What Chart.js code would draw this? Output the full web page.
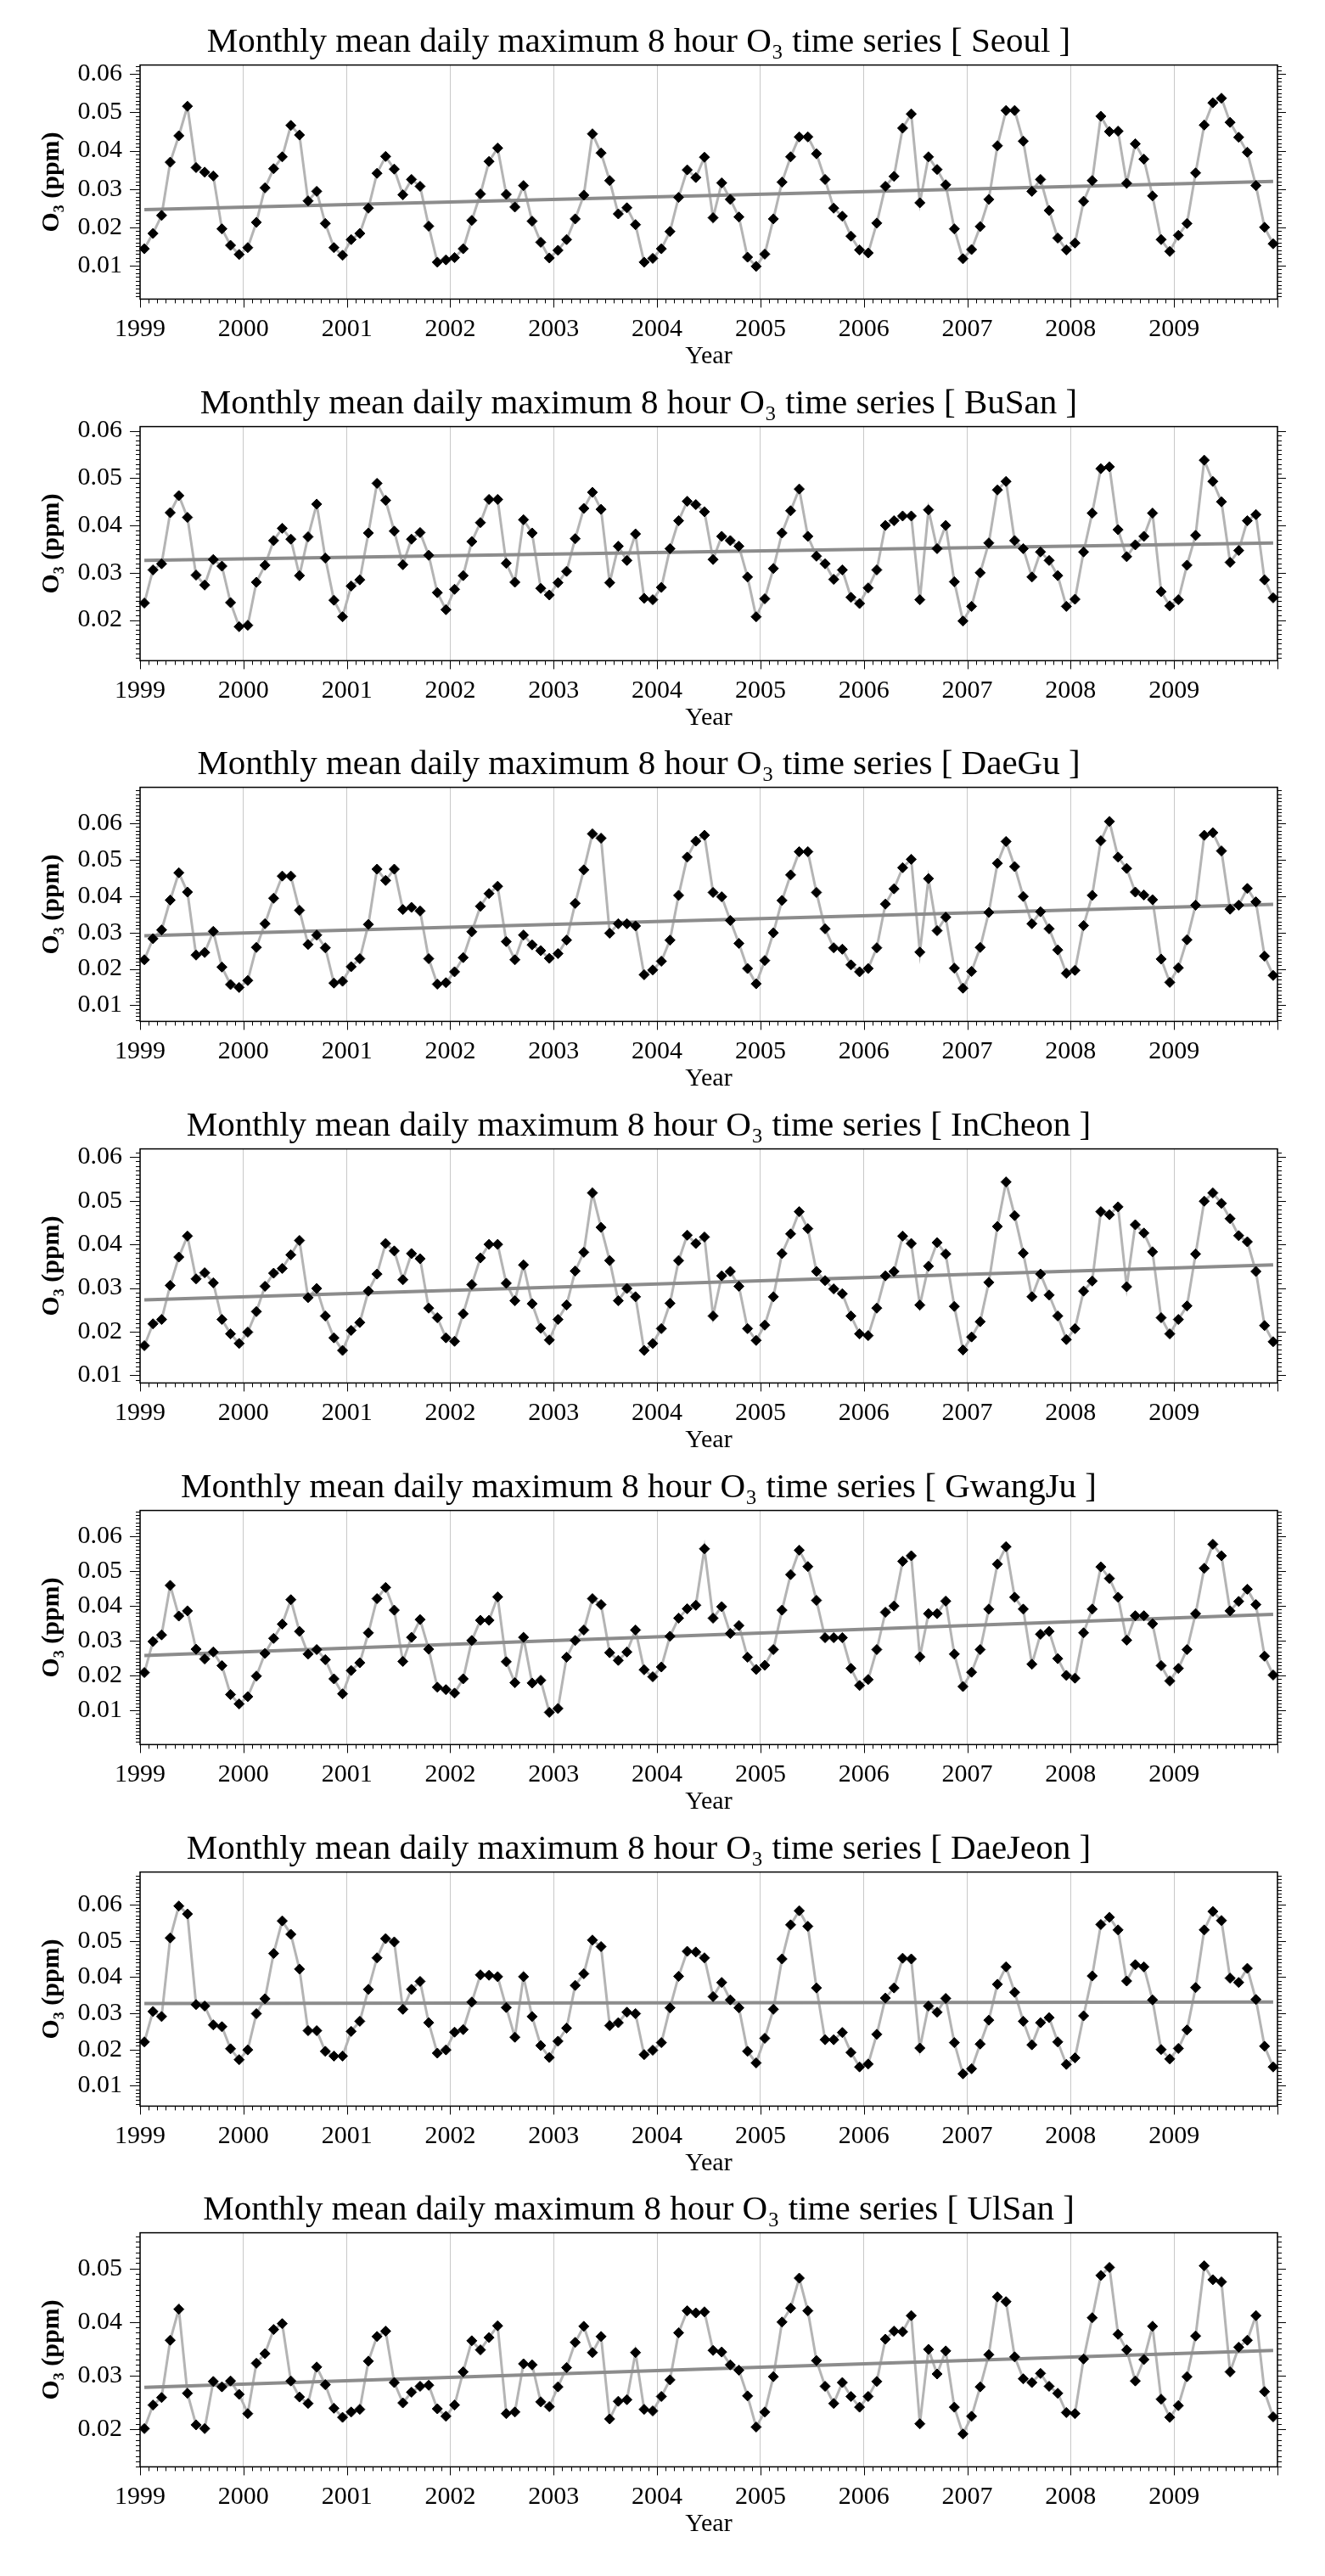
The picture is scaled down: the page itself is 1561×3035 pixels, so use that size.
<!DOCTYPE html>
<html>
<head>
<meta charset="utf-8">
<title>Monthly mean daily maximum 8 hour O3 time series</title>
<script src="https://cdn.jsdelivr.net/npm/chart.js@4.4.1/dist/chart.umd.min.js"></script>
<style>
    body { margin: 0; background: #fff; }
    #page { position: relative; width: 1561px; height: 3035px; background: #fff; }
    #page canvas { position: absolute; left: 0; }
</style>
</head>
<body>
<div id="page"></div>
<script>
const years = [1999, 2000, 2001, 2002, 2003, 2004, 2005, 2006, 2007, 2008, 2009];
const stations = ['Seoul', 'BuSan', 'DaeGu', 'InCheon', 'GwangJu', 'DaeJeon', 'UlSan'];

// monthly values (ppm), Jan 1999 .. Dec 2009, one row per year
const seoul = [
    0.0144, 0.0184, 0.0231, 0.0370, 0.0439, 0.0516, 0.0356, 0.0344, 0.0334, 0.0196, 0.0153, 0.0129,
    0.0147, 0.0213, 0.0303, 0.0353, 0.0384, 0.0466, 0.0441, 0.0269, 0.0294, 0.0210, 0.0147, 0.0127,
    0.0168, 0.0184, 0.0250, 0.0341, 0.0385, 0.0352, 0.0285, 0.0325, 0.0307, 0.0203, 0.0109, 0.0115,
    0.0121, 0.0144, 0.0218, 0.0287, 0.0372, 0.0407, 0.0286, 0.0253, 0.0309, 0.0216, 0.0161, 0.0120,
    0.0140, 0.0168, 0.0222, 0.0284, 0.0444, 0.0394, 0.0322, 0.0235, 0.0251, 0.0207, 0.0109, 0.0119,
    0.0144, 0.0189, 0.0278, 0.0350, 0.0330, 0.0383, 0.0225, 0.0316, 0.0273, 0.0227, 0.0122, 0.0098,
    0.0130, 0.0222, 0.0318, 0.0384, 0.0436, 0.0436, 0.0392, 0.0325, 0.0250, 0.0229, 0.0177, 0.0141,
    0.0133, 0.0211, 0.0307, 0.0333, 0.0459, 0.0496, 0.0264, 0.0384, 0.0351, 0.0311, 0.0196, 0.0118,
    0.0142, 0.0202, 0.0273, 0.0413, 0.0505, 0.0505, 0.0425, 0.0294, 0.0325, 0.0244, 0.0172, 0.0141,
    0.0159, 0.0268, 0.0322, 0.0490, 0.0450, 0.0451, 0.0315, 0.0418, 0.0378, 0.0282, 0.0168, 0.0137,
    0.0179, 0.0210, 0.0342, 0.0467, 0.0525, 0.0537, 0.0474, 0.0435, 0.0396, 0.0309, 0.0200, 0.0157
];
const busan = [
    0.0236, 0.0306, 0.0319, 0.0427, 0.0463, 0.0417, 0.0295, 0.0274, 0.0328, 0.0314, 0.0237, 0.0186,
    0.0189, 0.0280, 0.0316, 0.0368, 0.0394, 0.0371, 0.0294, 0.0376, 0.0445, 0.0331, 0.0242, 0.0207,
    0.0272, 0.0285, 0.0384, 0.0489, 0.0453, 0.0388, 0.0317, 0.0371, 0.0385, 0.0337, 0.0258, 0.0222,
    0.0265, 0.0294, 0.0366, 0.0406, 0.0455, 0.0455, 0.0320, 0.0280, 0.0412, 0.0384, 0.0267, 0.0253,
    0.0279, 0.0303, 0.0372, 0.0436, 0.0470, 0.0434, 0.0279, 0.0356, 0.0326, 0.0382, 0.0246, 0.0243,
    0.0269, 0.0351, 0.0410, 0.0451, 0.0444, 0.0429, 0.0328, 0.0377, 0.0368, 0.0356, 0.0291, 0.0207,
    0.0245, 0.0309, 0.0384, 0.0431, 0.0477, 0.0377, 0.0335, 0.0319, 0.0286, 0.0306, 0.0248, 0.0235,
    0.0268, 0.0306, 0.0400, 0.0410, 0.0420, 0.0420, 0.0243, 0.0433, 0.0351, 0.0400, 0.0281, 0.0198,
    0.0229, 0.0300, 0.0363, 0.0475, 0.0493, 0.0368, 0.0351, 0.0291, 0.0344, 0.0326, 0.0294, 0.0229,
    0.0244, 0.0344, 0.0426, 0.0520, 0.0524, 0.0391, 0.0334, 0.0359, 0.0377, 0.0426, 0.0260, 0.0230,
    0.0243, 0.0316, 0.0379, 0.0538, 0.0493, 0.0450, 0.0322, 0.0347, 0.0410, 0.0423, 0.0285, 0.0247
];
const daegu = [
    0.0225, 0.0283, 0.0307, 0.0389, 0.0464, 0.0411, 0.0238, 0.0245, 0.0303, 0.0205, 0.0157, 0.0149,
    0.0168, 0.0259, 0.0324, 0.0394, 0.0455, 0.0455, 0.0361, 0.0267, 0.0293, 0.0258, 0.0161, 0.0166,
    0.0206, 0.0228, 0.0322, 0.0474, 0.0443, 0.0474, 0.0363, 0.0369, 0.0359, 0.0228, 0.0158, 0.0162,
    0.0192, 0.0231, 0.0302, 0.0372, 0.0407, 0.0427, 0.0275, 0.0225, 0.0293, 0.0266, 0.0250, 0.0229,
    0.0242, 0.0279, 0.0380, 0.0472, 0.0571, 0.0559, 0.0298, 0.0324, 0.0324, 0.0318, 0.0184, 0.0197,
    0.0221, 0.0279, 0.0402, 0.0507, 0.0551, 0.0567, 0.0410, 0.0398, 0.0333, 0.0270, 0.0201, 0.0159,
    0.0223, 0.0299, 0.0388, 0.0458, 0.0522, 0.0522, 0.0410, 0.0310, 0.0258, 0.0254, 0.0211, 0.0192,
    0.0201, 0.0258, 0.0378, 0.0420, 0.0478, 0.0501, 0.0246, 0.0448, 0.0305, 0.0342, 0.0202, 0.0147,
    0.0193, 0.0259, 0.0355, 0.0490, 0.0550, 0.0481, 0.0399, 0.0324, 0.0357, 0.0310, 0.0252, 0.0188,
    0.0196, 0.0319, 0.0402, 0.0552, 0.0605, 0.0507, 0.0476, 0.0411, 0.0403, 0.0390, 0.0227, 0.0163,
    0.0203, 0.0280, 0.0375, 0.0567, 0.0574, 0.0524, 0.0364, 0.0375, 0.0421, 0.0384, 0.0235, 0.0182
];
const incheon = [
    0.0168, 0.0218, 0.0228, 0.0306, 0.0371, 0.0419, 0.0321, 0.0335, 0.0312, 0.0228, 0.0195, 0.0173,
    0.0199, 0.0246, 0.0304, 0.0334, 0.0345, 0.0376, 0.0409, 0.0278, 0.0299, 0.0236, 0.0186, 0.0157,
    0.0203, 0.0221, 0.0293, 0.0332, 0.0402, 0.0385, 0.0319, 0.0379, 0.0367, 0.0254, 0.0232, 0.0186,
    0.0178, 0.0241, 0.0308, 0.0369, 0.0400, 0.0400, 0.0311, 0.0271, 0.0353, 0.0264, 0.0208, 0.0181,
    0.0228, 0.0261, 0.0339, 0.0382, 0.0518, 0.0439, 0.0363, 0.0271, 0.0299, 0.0280, 0.0157, 0.0173,
    0.0207, 0.0265, 0.0363, 0.0421, 0.0402, 0.0417, 0.0236, 0.0328, 0.0338, 0.0304, 0.0207, 0.0180,
    0.0215, 0.0280, 0.0379, 0.0424, 0.0475, 0.0436, 0.0338, 0.0317, 0.0298, 0.0287, 0.0236, 0.0195,
    0.0191, 0.0254, 0.0328, 0.0338, 0.0419, 0.0402, 0.0261, 0.0350, 0.0404, 0.0378, 0.0258, 0.0158,
    0.0188, 0.0223, 0.0313, 0.0441, 0.0543, 0.0466, 0.0380, 0.0280, 0.0332, 0.0284, 0.0236, 0.0182,
    0.0207, 0.0293, 0.0316, 0.0475, 0.0468, 0.0486, 0.0303, 0.0445, 0.0426, 0.0383, 0.0232, 0.0195,
    0.0228, 0.0259, 0.0378, 0.0499, 0.0518, 0.0494, 0.0459, 0.0420, 0.0406, 0.0338, 0.0214, 0.0177
];
const gwangju = [
    0.0209, 0.0298, 0.0317, 0.0459, 0.0371, 0.0386, 0.0276, 0.0248, 0.0268, 0.0229, 0.0146, 0.0119,
    0.0140, 0.0199, 0.0264, 0.0307, 0.0348, 0.0418, 0.0327, 0.0262, 0.0275, 0.0246, 0.0191, 0.0148,
    0.0215, 0.0237, 0.0323, 0.0421, 0.0453, 0.0388, 0.0241, 0.0310, 0.0361, 0.0276, 0.0167, 0.0160,
    0.0150, 0.0191, 0.0301, 0.0359, 0.0359, 0.0426, 0.0240, 0.0180, 0.0310, 0.0179, 0.0187, 0.0095,
    0.0106, 0.0253, 0.0301, 0.0331, 0.0421, 0.0404, 0.0266, 0.0244, 0.0268, 0.0331, 0.0217, 0.0197,
    0.0225, 0.0313, 0.0365, 0.0392, 0.0402, 0.0564, 0.0365, 0.0398, 0.0321, 0.0344, 0.0253, 0.0218,
    0.0230, 0.0275, 0.0388, 0.0490, 0.0560, 0.0513, 0.0416, 0.0309, 0.0309, 0.0309, 0.0221, 0.0172,
    0.0189, 0.0275, 0.0382, 0.0400, 0.0528, 0.0544, 0.0254, 0.0378, 0.0378, 0.0414, 0.0262, 0.0169,
    0.0210, 0.0275, 0.0391, 0.0520, 0.0570, 0.0425, 0.0391, 0.0233, 0.0319, 0.0327, 0.0249, 0.0201,
    0.0193, 0.0323, 0.0391, 0.0512, 0.0479, 0.0425, 0.0302, 0.0372, 0.0372, 0.0349, 0.0229, 0.0185,
    0.0221, 0.0275, 0.0378, 0.0508, 0.0577, 0.0544, 0.0386, 0.0413, 0.0448, 0.0404, 0.0256, 0.0202
];
const daejeon = [
    0.0221, 0.0305, 0.0291, 0.0508, 0.0596, 0.0574, 0.0324, 0.0320, 0.0268, 0.0263, 0.0202, 0.0172,
    0.0199, 0.0299, 0.0340, 0.0465, 0.0555, 0.0518, 0.0422, 0.0252, 0.0252, 0.0195, 0.0182, 0.0182,
    0.0250, 0.0278, 0.0366, 0.0453, 0.0506, 0.0497, 0.0311, 0.0366, 0.0388, 0.0274, 0.0190, 0.0199,
    0.0248, 0.0255, 0.0331, 0.0406, 0.0405, 0.0401, 0.0316, 0.0234, 0.0401, 0.0291, 0.0211, 0.0178,
    0.0223, 0.0259, 0.0377, 0.0409, 0.0502, 0.0484, 0.0266, 0.0274, 0.0303, 0.0299, 0.0186, 0.0198,
    0.0219, 0.0315, 0.0402, 0.0471, 0.0469, 0.0453, 0.0346, 0.0385, 0.0337, 0.0315, 0.0195, 0.0163,
    0.0231, 0.0311, 0.0450, 0.0544, 0.0583, 0.0540, 0.0370, 0.0227, 0.0227, 0.0247, 0.0192, 0.0152,
    0.0160, 0.0242, 0.0342, 0.0370, 0.0452, 0.0450, 0.0204, 0.0320, 0.0303, 0.0341, 0.0219, 0.0133,
    0.0147, 0.0215, 0.0281, 0.0380, 0.0428, 0.0358, 0.0278, 0.0213, 0.0274, 0.0288, 0.0221, 0.0159,
    0.0177, 0.0293, 0.0403, 0.0545, 0.0565, 0.0530, 0.0389, 0.0434, 0.0428, 0.0337, 0.0200, 0.0174,
    0.0203, 0.0254, 0.0371, 0.0530, 0.0581, 0.0556, 0.0397, 0.0385, 0.0424, 0.0338, 0.0209, 0.0152
];
const ulsan = [
    0.0201, 0.0245, 0.0259, 0.0366, 0.0424, 0.0267, 0.0208, 0.0201, 0.0289, 0.0279, 0.0290, 0.0265,
    0.0229, 0.0323, 0.0341, 0.0386, 0.0397, 0.0290, 0.0260, 0.0248, 0.0316, 0.0283, 0.0239, 0.0222,
    0.0232, 0.0237, 0.0327, 0.0373, 0.0383, 0.0287, 0.0249, 0.0269, 0.0280, 0.0282, 0.0238, 0.0224,
    0.0245, 0.0307, 0.0365, 0.0348, 0.0371, 0.0393, 0.0229, 0.0232, 0.0322, 0.0320, 0.0251, 0.0242,
    0.0279, 0.0315, 0.0362, 0.0392, 0.0343, 0.0373, 0.0219, 0.0252, 0.0255, 0.0343, 0.0237, 0.0234,
    0.0261, 0.0292, 0.0380, 0.0421, 0.0417, 0.0419, 0.0347, 0.0344, 0.0320, 0.0310, 0.0262, 0.0204,
    0.0232, 0.0298, 0.0400, 0.0426, 0.0482, 0.0421, 0.0328, 0.0280, 0.0248, 0.0287, 0.0261, 0.0241,
    0.0261, 0.0289, 0.0368, 0.0383, 0.0382, 0.0412, 0.0210, 0.0349, 0.0303, 0.0346, 0.0241, 0.0191,
    0.0224, 0.0279, 0.0339, 0.0447, 0.0438, 0.0335, 0.0294, 0.0287, 0.0304, 0.0280, 0.0267, 0.0231,
    0.0229, 0.0331, 0.0408, 0.0487, 0.0502, 0.0377, 0.0348, 0.0290, 0.0330, 0.0392, 0.0256, 0.0222,
    0.0244, 0.0298, 0.0374, 0.0505, 0.0479, 0.0475, 0.0307, 0.0353, 0.0366, 0.0412, 0.0270, 0.0223
];

// linear trend, value at first and at last month
const seoulTrend = [0.0246, 0.0320];
const busanTrend = [0.0326, 0.0363];
const daeguTrend = [0.0291, 0.0377];
const incheonTrend = [0.0273, 0.0353];
const gwangjuTrend = [0.0258, 0.0376];
const daejeonTrend = [0.0327, 0.0331];
const ulsanTrend = [0.0278, 0.0347];

// y axis range of each panel
const yMins = [0.00126, 0.01142, 0.00557, 0.00825, 0.00026, 0.00438, 0.01296];
const yMaxs = [0.06237, 0.06089, 0.06988, 0.06188, 0.06739, 0.06898, 0.05667];

const seriesList = [seoul, busan, daegu, incheon, gwangju, daejeon, ulsan];
const trendList = [seoulTrend, busanTrend, daeguTrend, incheonTrend, gwangjuTrend, daejeonTrend, ulsanTrend];

const SERIF = '"Liberation Serif", "DejaVu Serif", "Times New Roman", serif';
const PANEL_STEP = 425.7;
const CANVAS_W = 1561;
const CANVAS_H = 426;

// frame box plus the small tick marks (monthly on x, 0.001 on y)
const frameTicks = {
    id: 'frameTicks',
    beforeDatasetsDraw(chart) {
        const { ctx, chartArea: a, scales: { x, y } } = chart;
        ctx.save();
        ctx.strokeStyle = '#000';
        ctx.lineWidth = 1;
        ctx.beginPath();
        const lo = Math.ceil(y.min * 1000);
        const hi = Math.floor(y.max * 1000);
        for (let k = lo; k <= hi; k++) {
            const py = Math.round(y.getPixelForValue(k / 1000)) + 0.5;
            const major = k % 10 === 0;
            ctx.moveTo(a.left - (major ? 12 : 5), py);
            ctx.lineTo(a.left, py);
            ctx.moveTo(a.right, py);
            ctx.lineTo(a.right + (major ? 10 : 5), py);
        }
        const nMonths = years.length * 12;
        for (let m = 0; m <= nMonths; m++) {
            const px = Math.round(x.getPixelForValue(years[0] + m / 12)) + 0.5;
            ctx.moveTo(px, a.bottom);
            ctx.lineTo(px, a.bottom + (m % 12 === 0 ? 10 : 5));
        }
        ctx.stroke();
        ctx.lineWidth = 1.5;
        ctx.strokeRect(a.left, a.top, a.right - a.left, a.bottom - a.top);
        ctx.restore();
    }
};

function monthX(i) {
    return years[0] + Math.floor(i / 12) + ((i % 12) + 0.5) / 12;
}

function makePanel(idx) {
    const page = document.getElementById('page');
    const canvas = document.createElement('canvas');
    canvas.width = CANVAS_W;
    canvas.height = CANVAS_H;
    canvas.style.top = (10 + idx * PANEL_STEP) + 'px';
    page.appendChild(canvas);

    const values = seriesList[idx];
    const points = values.map((v, i) => ({ x: monthX(i), y: v }));
    const trend = trendList[idx];
    const trendPoints = [
        { x: monthX(0), y: trend[0] },
        { x: monthX(values.length - 1), y: trend[1] }
    ];

    new Chart(canvas, {
        type: 'line',
        data: {
            datasets: [{
                data: points,
                borderColor: '#b4b4b4',
                borderWidth: 3,
                pointRadius: 0,
                tension: 0,
                clip: false,
                order: 3
            }, {
                data: trendPoints,
                borderColor: '#8c8c8c',
                borderWidth: 4,
                pointRadius: 0,
                clip: false,
                order: 2
            }, {
                data: points,
                showLine: false,
                pointStyle: 'rectRot',
                pointRadius: 6,
                backgroundColor: '#000',
                borderColor: '#000',
                borderWidth: 1,
                clip: false,
                order: 1
            }]
        },
        options: {
            responsive: false,
            animation: false,
            devicePixelRatio: 1,
            events: [],
            layout: { padding: { top: 0, left: 0, right: 56, bottom: 0 } },
            plugins: {
                legend: { display: false },
                tooltip: { enabled: false },
                title: {
                    display: true,
                    text: 'Monthly mean daily maximum 8 hour O\u2083 time series [ ' + stations[idx] + ' ]',
                    color: '#000',
                    font: { family: SERIF, size: 41, weight: 'normal', lineHeight: 1.2 },
                    padding: { top: 15.4, bottom: 2 }
                }
            },
            scales: {
                x: {
                    type: 'linear',
                    min: years[0],
                    max: years[years.length - 1] + 1,
                    border: { display: false },
                    grid: { color: '#c8c8c8', lineWidth: 1, drawTicks: false },
                    ticks: {
                        stepSize: 1,
                        autoSkip: false,
                        maxRotation: 0,
                        padding: 17.6,
                        color: '#000',
                        font: { family: SERIF, size: 30, lineHeight: 1.2 },
                        callback: (v) => years.includes(v) ? String(v) : ''
                    },
                    title: {
                        display: true,
                        text: 'Year',
                        color: '#000',
                        font: { family: SERIF, size: 30, lineHeight: 1 },
                        padding: { top: 0, bottom: 1 }
                    },
                    afterFit: (scale) => { scale.height = 83.6; }
                },
                y: {
                    min: yMins[idx],
                    max: yMaxs[idx],
                    border: { display: false },
                    grid: { display: false, drawTicks: false },
                    ticks: {
                        stepSize: 0.01,
                        includeBounds: false,
                        padding: 21,
                        color: '#000',
                        font: { family: SERIF, size: 30, lineHeight: 1.2 },
                        callback: (v) => v.toFixed(2)
                    },
                    title: {
                        display: true,
                        text: 'O\u2083 (ppm)',
                        color: '#000',
                        font: { family: SERIF, size: 30, weight: 'bold', lineHeight: 1.2 },
                        padding: { top: 43, bottom: 0 }
                    },
                    afterFit: (scale) => { scale.width = 165; }
                }
            }
        },
        plugins: [frameTicks]
    });
}

for (let i = 0; i < stations.length; i++) {
    makePanel(i);
}
</script>
</body>
</html>
